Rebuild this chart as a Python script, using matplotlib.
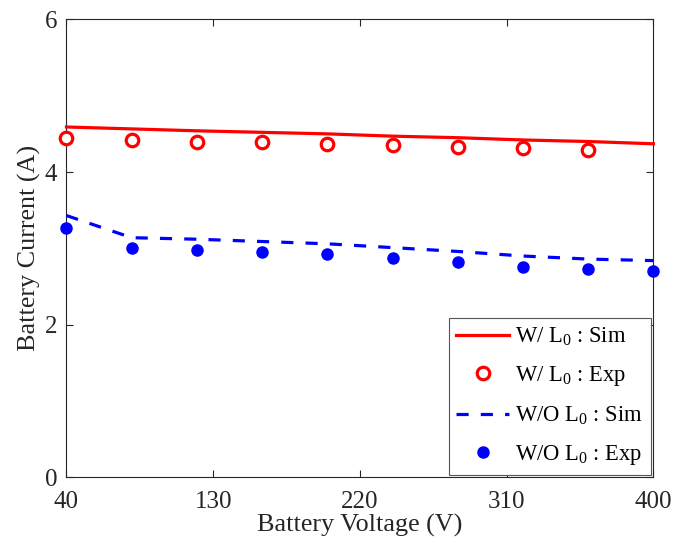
import matplotlib
matplotlib.use("Agg")
import matplotlib.pyplot as plt

plt.rcParams['font.family'] = ['Liberation Serif', 'DejaVu Serif']
plt.rcParams['mathtext.fontset'] = 'custom'
plt.rcParams['mathtext.rm'] = 'Liberation Serif'
plt.rcParams['mathtext.it'] = 'Liberation Serif:italic'

# Battery voltage sweep (V)
volt_sim = [40, 80, 120, 160, 200, 240, 280, 320, 360, 400]
volt_exp_w = [40, 80, 120, 160, 200, 240, 280, 320, 360]
volt_exp_wo = [40, 80, 120, 160, 200, 240, 280, 320, 360, 400]

# Battery current (A)
cur_sim_w = [4.59, 4.565, 4.54, 4.52, 4.50, 4.47, 4.45, 4.42, 4.40, 4.37]
cur_exp_w = [4.44, 4.42, 4.40, 4.39, 4.37, 4.355, 4.33, 4.31, 4.295]
cur_sim_wo = [3.43, 3.14, 3.12, 3.09, 3.06, 3.01, 2.96, 2.90, 2.86, 2.84]
cur_exp_wo = [3.27, 3.00, 2.98, 2.95, 2.92, 2.87, 2.82, 2.75, 2.73, 2.71]

labels = ['W/ L$_0$ : Sim', 'W/ L$_0$ : Exp', 'W/O L$_0$ : Sim', 'W/O L$_0$ : Exp']
xticks = [40, 130, 220, 310, 400]
yticks = [0, 2, 4, 6]

TICK_FS = 18
LABEL_FS = 18.8
LEG_FS = 16.3
INK = '#262626'

fig = plt.figure(figsize=(6.75, 5.45), dpi=100)
ax = fig.add_axes([0.0985, 0.124, 0.8695, 0.8405])

ax.plot(volt_sim, cur_sim_w, color='#ff0000', lw=2.3, label=labels[0], clip_on=False, zorder=3)
ax.plot(volt_exp_w, cur_exp_w, ls='none', marker='o', ms=9, mfc='white', mec='#ff0000',
        mew=2.3, label=labels[1], clip_on=False, zorder=4)
ax.plot(volt_sim, cur_sim_wo, color='#0000ff', lw=2.3, ls=(0, (3.8, 3.8)), label=labels[2],
        clip_on=False, zorder=3)
ax.plot(volt_exp_wo, cur_exp_wo, ls='none', marker='o', ms=8, color='#0000ff',
        label=labels[3], clip_on=False, zorder=4)

ax.set_xlim(40, 400)
ax.set_ylim(0, 6)
ax.set_xticks(xticks)
ax.set_yticks(yticks)
ax.tick_params(direction='in', length=5, width=0.8, top=True, right=True,
               labelsize=TICK_FS, colors=INK)
ax.tick_params(axis='x', pad=10)
ax.tick_params(axis='y', pad=6.5)
for s in ax.spines.values():
    s.set_linewidth(0.8)
    s.set_color(INK)

ax.set_xlabel('Battery Voltage (V)', fontsize=LABEL_FS, color=INK, labelpad=0.5)
ax.set_ylabel('Battery Current (A)', fontsize=LABEL_FS, color=INK, labelpad=2.5)

leg = ax.legend(loc='lower right', bbox_to_anchor=(1.0, 0.0), borderaxespad=0.12,
                fontsize=LEG_FS, handlelength=2.35, handletextpad=0.27, labelspacing=0.72,
                frameon=True, fancybox=False, framealpha=1, borderpad=0.33)
leg.get_frame().set_edgecolor('#555555')
leg.get_frame().set_linewidth(0.8)

fig.savefig('out.png', dpi=100)
